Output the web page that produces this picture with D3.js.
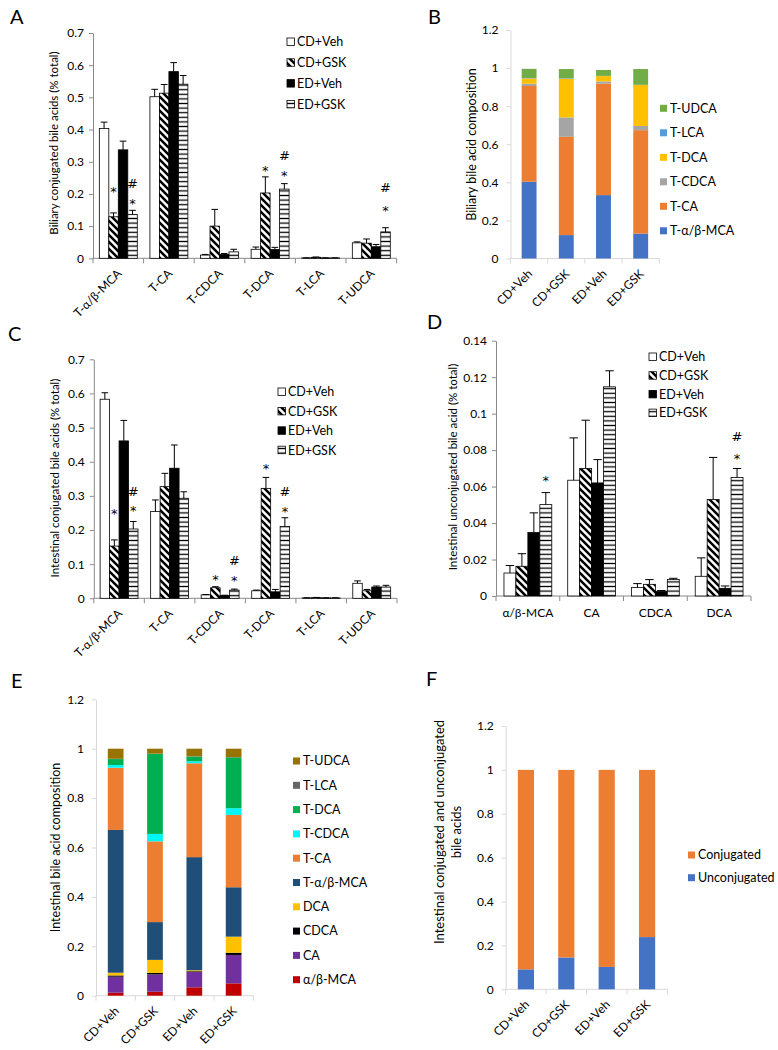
<!DOCTYPE html>
<html><head><meta charset="utf-8">
<script src="https://cdn.jsdelivr.net/npm/d3@7/dist/d3.min.js"></script>
<style>body{margin:0;background:#fff;} svg{display:block;}</style>
</head><body>
<svg id="chart" width="778" height="1050"></svg>
<script>
// ---------------- DATA ----------------
const groups = ["CD+Veh", "CD+GSK", "ED+Veh", "ED+GSK"];

// Panel A: biliary conjugated bile acids (mean, SE)
const catsA = ["T-α/β-MCA", "T-CA", "T-CDCA", "T-DCA", "T-LCA", "T-UDCA"];
const aMeanCDVeh = [0.403, 0.502, 0.010, 0.028, 0.001, 0.048];
const aMeanCDGSK = [0.129, 0.513, 0.100, 0.203, 0.003, 0.047];
const aMeanEDVeh = [0.337, 0.580, 0.012, 0.027, 0.001, 0.036];
const aMeanEDGSK = [0.136, 0.541, 0.020, 0.215, 0.001, 0.082];
const aSeCDVeh = [0.020, 0.023, 0.002, 0.007, 0.0005, 0.003];
const aSeCDGSK = [0.012, 0.027, 0.052, 0.050, 0.001, 0.013];
const aSeEDVeh = [0.027, 0.028, 0.003, 0.007, 0.0005, 0.007];
const aSeEDGSK = [0.013, 0.027, 0.008, 0.017, 0.0005, 0.013];
const sigA = [
  {cat: 0, grp: 1, mark: "*", v: 0.218},
  {cat: 0, grp: 3, mark: "#", v: 0.234},
  {cat: 0, grp: 3, mark: "*", v: 0.181},
  {cat: 3, grp: 1, mark: "*", v: 0.284},
  {cat: 3, grp: 3, mark: "#", v: 0.319},
  {cat: 3, grp: 3, mark: "*", v: 0.267},
  {cat: 5, grp: 3, mark: "#", v: 0.220},
  {cat: 5, grp: 3, mark: "*", v: 0.160}
];
const ticksA = [0, 0.1, 0.2, 0.3, 0.4, 0.5, 0.6, 0.7];

// Panel B: biliary composition (stacked)
const keysB = ["T-α/β-MCA", "T-CA", "T-CDCA", "T-DCA", "T-LCA", "T-UDCA"];
const colorsB = ["#4472C4", "#ED7D31", "#A5A5A5", "#FFC000", "#5B9BD5", "#70AD47"];
const bCDVeh = [0.403, 0.503, 0.012, 0.028, 0.002, 0.048];
const bCDGSK = [0.123, 0.516, 0.102, 0.203, 0.003, 0.048];
const bEDVeh = [0.333, 0.585, 0.012, 0.028, 0.001, 0.031];
const bEDGSK = [0.131, 0.543, 0.022, 0.215, 0.001, 0.083];
const ticksComp = [0, 0.2, 0.4, 0.6, 0.8, 1, 1.2];

// Panel C: intestinal conjugated bile acids (mean, SE)
const catsC = ["T-α/β-MCA", "T-CA", "T-CDCA", "T-DCA", "T-LCA", "T-UDCA"];
const cMeanCDVeh = [0.583, 0.254, 0.010, 0.022, 0.001, 0.044];
const cMeanCDGSK = [0.153, 0.327, 0.031, 0.322, 0.002, 0.022];
const cMeanEDVeh = [0.461, 0.381, 0.008, 0.019, 0.001, 0.033];
const cMeanEDGSK = [0.203, 0.293, 0.024, 0.210, 0.001, 0.033];
const cSeCDVeh = [0.019, 0.034, 0.001, 0.002, 0.0005, 0.007];
const cSeCDGSK = [0.018, 0.039, 0.003, 0.032, 0.0005, 0.004];
const cSeEDVeh = [0.060, 0.068, 0.001, 0.007, 0.0005, 0.003];
const cSeEDGSK = [0.022, 0.019, 0.003, 0.026, 0.0005, 0.005];
const sigC = [
  {cat: 0, grp: 1, mark: "*", v: 0.257},
  {cat: 0, grp: 3, mark: "#", v: 0.312},
  {cat: 0, grp: 3, mark: "*", v: 0.267},
  {cat: 2, grp: 1, mark: "*", v: 0.065},
  {cat: 2, grp: 3, mark: "#", v: 0.110},
  {cat: 2, grp: 3, mark: "*", v: 0.061},
  {cat: 3, grp: 1, mark: "*", v: 0.390},
  {cat: 3, grp: 3, mark: "#", v: 0.312},
  {cat: 3, grp: 3, mark: "*", v: 0.264}
];

// Panel D: intestinal unconjugated bile acids (mean, SE)
const catsD = ["α/β-MCA", "CA", "CDCA", "DCA"];
const dMeanCDVeh = [0.0126, 0.0635, 0.0046, 0.0108];
const dMeanCDGSK = [0.0163, 0.0699, 0.0064, 0.0529];
const dMeanEDVeh = [0.0348, 0.0620, 0.0026, 0.0042];
const dMeanEDGSK = [0.0501, 0.1147, 0.0090, 0.0650];
const dSeCDVeh = [0.0041, 0.0232, 0.0022, 0.0101];
const dSeCDGSK = [0.0069, 0.0265, 0.0026, 0.0231];
const dSeEDVeh = [0.0108, 0.0128, 0.0004, 0.0013];
const dSeEDGSK = [0.0066, 0.0088, 0.0007, 0.0049];
const sigD = [
  {cat: 0, grp: 3, mark: "*", v: 0.0654},
  {cat: 3, grp: 3, mark: "#", v: 0.0874},
  {cat: 3, grp: 3, mark: "*", v: 0.0773}
];
const ticksD = [0, 0.02, 0.04, 0.06, 0.08, 0.1, 0.12, 0.14];

// Panel E: intestinal composition (stacked)
const keysE = ["α/β-MCA", "CA", "CDCA", "DCA", "T-α/β-MCA", "T-CA", "T-CDCA", "T-DCA", "T-LCA", "T-UDCA"];
const colorsE = ["#C00000", "#7030A0", "#000000", "#FFC000", "#1F4E79", "#ED7D31", "#00F5F5", "#00B050", "#666666", "#997300"];
const eCDVeh = [0.012, 0.065, 0.005, 0.011, 0.578, 0.252, 0.011, 0.024, 0.001, 0.041];
const eCDGSK = [0.016, 0.070, 0.006, 0.053, 0.153, 0.327, 0.030, 0.324, 0.001, 0.020];
const eEDVeh = [0.034, 0.062, 0.003, 0.004, 0.458, 0.380, 0.008, 0.019, 0.001, 0.031];
const eEDGSK = [0.050, 0.115, 0.009, 0.065, 0.200, 0.293, 0.027, 0.206, 0.001, 0.034];

// Panel F: conjugated vs unconjugated (stacked)
const keysF = ["Unconjugated", "Conjugated"];
const colorsF = ["#4472C4", "#ED7D31"];
const fUnconj = [0.091, 0.145, 0.102, 0.238];
const fConj = [0.909, 0.855, 0.898, 0.762];

// ---------------- DRAWING ----------------
const FONT = "Lato, 'Open Sans', 'DejaVu Sans', sans-serif";
const svg = d3.select("#chart").attr("font-family", FONT);
const defs = svg.append("defs");
const pd = defs.append("pattern").attr("id", "diag").attr("patternUnits", "userSpaceOnUse").attr("width", 7).attr("height", 7);
pd.append("rect").attr("width", 7).attr("height", 7).attr("fill", "#fff");
pd.append("path").attr("d", "M-1,-1L8,8M-1,6L1,8M6,-1L8,1").attr("stroke", "#000").attr("stroke-width", 2.5);
const ph = defs.append("pattern").attr("id", "horiz").attr("patternUnits", "userSpaceOnUse").attr("width", 6).attr("height", 4.6);
ph.append("rect").attr("width", 6).attr("height", 4.6).attr("fill", "#fff");
ph.append("line").attr("x1", 0).attr("x2", 6).attr("y1", 2.3).attr("y2", 2.3).attr("stroke", "#000").attr("stroke-width", 1.3);
const groupFills = ["#fff", "url(#diag)", "#000", "url(#horiz)"];

const fmtTick = d => String(+d.toFixed(2));

function panelLetter(t, x, y) {
  svg.append("text").attr("x", x).attr("y", y).attr("font-size", 20).attr("fill", "#000").text(t);
}

function yAxis(y, x0, ticks, color, pad, fs) {
  const ax = d3.axisLeft(y).tickValues(ticks).tickSize(4).tickSizeOuter(0).tickPadding(pad).tickFormat(fmtTick);
  const a = svg.append("g").attr("transform", `translate(${x0},0)`).call(ax)
    .attr("font-family", FONT).attr("font-size", fs);
  a.select(".domain").attr("stroke", color);
  a.selectAll(".tick line").attr("stroke", color);
  a.selectAll(".tick text").attr("fill", "#000");
}

function xBase(xb, y0, color) {
  const n = xb.domain().length, st = xb.step(), r0 = xb.range()[0];
  svg.append("line").attr("x1", r0).attr("x2", r0 + n * st).attr("y1", y0).attr("y2", y0)
    .attr("stroke", color).attr("stroke-width", 1);
  svg.append("g").selectAll("line").data(d3.range(n + 1)).join("line")
    .attr("x1", k => r0 + k * st).attr("x2", k => r0 + k * st)
    .attr("y1", y0).attr("y2", y0 + 5).attr("stroke", color);
}

function rotLabels(xb, y0, fs) {
  svg.append("g").selectAll("text").data(xb.domain()).join("text")
    .attr("transform", d => `translate(${xb(d) + xb.bandwidth() / 2 + 4},${y0 + 16}) rotate(-45)`)
    .attr("text-anchor", "end").attr("font-size", fs).attr("fill", "#000").text(d => d);
}

function yTitle(lines, x, y, fs, lh) {
  const t = svg.append("text").attr("transform", `translate(${x},${y}) rotate(-90)`)
    .attr("text-anchor", "middle").attr("font-size", fs).attr("fill", "#000");
  lines.forEach((l, i) => t.append("tspan").attr("x", 0).attr("y", i * lh).attr("dy", "0.35em").text(l));
}

function groupedPanel(cfg) {
  const x0 = d3.scaleBand().domain(cfg.cats).range(cfg.xr).paddingInner(0.25).paddingOuter(0.125);
  const x1 = d3.scaleBand().domain(groups).range([0, x0.bandwidth()]);
  const y = d3.scaleLinear().domain([0, cfg.ymax]).range(cfg.yr);
  yAxis(y, cfg.xr[0], cfg.ticks, "#8a8a8a", 5, 12);
  xBase(x0, cfg.yr[0], "#8a8a8a");
  const rows = [];
  groups.forEach((g, gi) => cfg.cats.forEach((c, ci) => rows.push({
    c, g, gi, m: cfg.means[gi][ci], se: cfg.ses[gi][ci]
  })));
  const bw = x1.bandwidth();
  svg.append("g").selectAll("rect").data(rows).join("rect")
    .attr("x", d => x0(d.c) + x1(d.g)).attr("width", bw)
    .attr("y", d => y(d.m)).attr("height", d => y(0) - y(d.m))
    .attr("fill", d => groupFills[d.gi]).attr("stroke", "#000").attr("stroke-width", 0.8);
  const cap = bw * 0.35;
  const eg = svg.append("g").attr("stroke", "#000").attr("stroke-width", 1);
  eg.selectAll("line.v").data(rows).join("line").attr("class", "v")
    .attr("x1", d => x0(d.c) + x1(d.g) + bw / 2).attr("x2", d => x0(d.c) + x1(d.g) + bw / 2)
    .attr("y1", d => y(d.m)).attr("y2", d => y(d.m + d.se));
  eg.selectAll("line.h").data(rows).join("line").attr("class", "h")
    .attr("x1", d => x0(d.c) + x1(d.g) + bw / 2 - cap).attr("x2", d => x0(d.c) + x1(d.g) + bw / 2 + cap)
    .attr("y1", d => y(d.m + d.se)).attr("y2", d => y(d.m + d.se));
  const shift = {"*": 0.6, "#": 0.36};
  svg.append("g").selectAll("text").data(cfg.sig).join("text")
    .attr("x", d => x0(cfg.cats[d.cat]) + x1(groups[d.grp]) + bw / 2)
    .attr("y", d => y(d.v) + shift[d.mark] * 13)
    .attr("text-anchor", "middle").attr("font-size", 13).attr("font-family", "'DejaVu Sans', sans-serif")
    .attr("fill", "#000").text(d => d.mark);
  // legend
  const lg = svg.append("g");
  groups.forEach((g, i) => {
    const yy = cfg.leg.y + i * cfg.leg.step;
    lg.append("rect").attr("x", cfg.leg.x).attr("y", yy - 4).attr("width", 7.5).attr("height", 7.5)
      .attr("fill", groupFills[i]).attr("stroke", "#000").attr("stroke-width", 0.8);
    lg.append("text").attr("x", cfg.leg.x + 10).attr("y", yy).attr("dy", "0.35em")
      .attr("font-size", 12.5).attr("fill", "#000").text(g);
  });
  return {x0, y};
}

function stackedPanel(cfg) {
  const xb = d3.scaleBand().domain(groups).range(cfg.xr).paddingInner(0.6).paddingOuter(0.3);
  const y = d3.scaleLinear().domain([0, 1.2]).range(cfg.yr);
  yAxis(y, cfg.xr[0], ticksComp, "#d9d9d9", 8, 12);
  xBase(xb, cfg.yr[0], "#d9d9d9");
  const table = groups.map((g, gi) => {
    const o = {grp: g};
    cfg.keys.forEach((k, ki) => o[k] = cfg.vals[gi][ki]);
    return o;
  });
  const series = d3.stack().keys(cfg.keys)(table);
  svg.append("g").selectAll("g").data(series).join("g")
    .attr("fill", (s, i) => cfg.colors[i])
    .selectAll("rect").data(s => s).join("rect")
    .attr("x", d => xb(d.data.grp)).attr("width", xb.bandwidth())
    .attr("y", d => y(d[1])).attr("height", d => y(d[0]) - y(d[1]));
  rotLabels(xb, cfg.yr[0], 12);
  const lg = svg.append("g");
  const rev = cfg.keys.slice().reverse();
  rev.forEach((k, i) => {
    const yy = cfg.leg.y + i * cfg.leg.step;
    lg.append("rect").attr("x", cfg.leg.x).attr("y", yy - 3.5).attr("width", 7).attr("height", 7)
      .attr("fill", cfg.colors[cfg.keys.indexOf(k)]);
    lg.append("text").attr("x", cfg.leg.x + 10).attr("y", yy).attr("dy", "0.35em")
      .attr("font-size", 12.5).attr("fill", "#000").text(k);
  });
}

// Panel A
panelLetter("A", 10, 24);
const pA = groupedPanel({
  cats: catsA, xr: [93, 396.6], yr: [258.3, 33], ymax: 0.7, ticks: ticksA,
  means: [aMeanCDVeh, aMeanCDGSK, aMeanEDVeh, aMeanEDGSK],
  ses: [aSeCDVeh, aSeCDGSK, aSeEDVeh, aSeEDGSK], sig: sigA,
  leg: {x: 287, y: 42, step: 20.8}
});
rotLabels(pA.x0, 258.3, 12);
yTitle(["Biliary conjugated bile acids (% total)"], 54, 143, 11.5, 0);

// Panel B
panelLetter("B", 428, 24);
stackedPanel({
  keys: keysB, colors: colorsB, vals: [bCDVeh, bCDGSK, bEDVeh, bEDGSK],
  xr: [510.5, 659.3], yr: [258.5, 30], leg: {x: 660, y: 108.3, step: 24.5}
});
yTitle(["Biliary bile acid composition"], 472, 144.5, 12.5, 0);

// Panel C
panelLetter("C", 8, 341);
const pC = groupedPanel({
  cats: catsC, xr: [93.8, 397], yr: [598.3, 359.3], ymax: 0.7, ticks: ticksA,
  means: [cMeanCDVeh, cMeanCDGSK, cMeanEDVeh, cMeanEDGSK],
  ses: [cSeCDVeh, cSeCDGSK, cSeEDVeh, cSeEDGSK], sig: sigC,
  leg: {x: 278, y: 392, step: 19.4}
});
rotLabels(pC.x0, 598.3, 12);
yTitle(["Intestinal conjugated bile acids (% total)"], 55, 478, 11.5, 0);

// Panel D
panelLetter("D", 427, 328.5);
const pD = groupedPanel({
  cats: catsD, xr: [496, 751], yr: [596, 340.7], ymax: 0.14, ticks: ticksD,
  means: [dMeanCDVeh, dMeanCDGSK, dMeanEDVeh, dMeanEDGSK],
  ses: [dSeCDVeh, dSeCDGSK, dSeEDVeh, dSeEDGSK], sig: sigD,
  leg: {x: 649, y: 357, step: 18.7}
});
svg.append("g").selectAll("text").data(catsD).join("text")
  .attr("x", d => pD.x0(d) + pD.x0.bandwidth() / 2).attr("y", 617)
  .attr("text-anchor", "middle").attr("font-size", 12).attr("fill", "#000").text(d => d);
yTitle(["Intestinal unconjugated bile acid (% total)"], 453.3, 467, 11.5, 0);

// Panel E
panelLetter("E", 11, 688);
stackedPanel({
  keys: keysE, colors: colorsE, vals: [eCDVeh, eCDGSK, eEDVeh, eEDGSK],
  xr: [96, 253.3], yr: [995.7, 699.3], leg: {x: 293, y: 761, step: 24.3}
});
yTitle(["Intestinal bile acid composition"], 56, 847.5, 12.5, 0);

// Panel F
panelLetter("F", 426, 686);
stackedPanel({
  keys: keysF, colors: colorsF, vals: groups.map((g, i) => [fUnconj[i], fConj[i]]),
  xr: [505.7, 667.3], yr: [989.3, 726], leg: {x: 688, y: 855, step: 22.7}
});
yTitle(["Intestinal conjugated and unconjugated", "bile acids"], 439.3, 832, 13, 17.4);
</script>
</body></html>
